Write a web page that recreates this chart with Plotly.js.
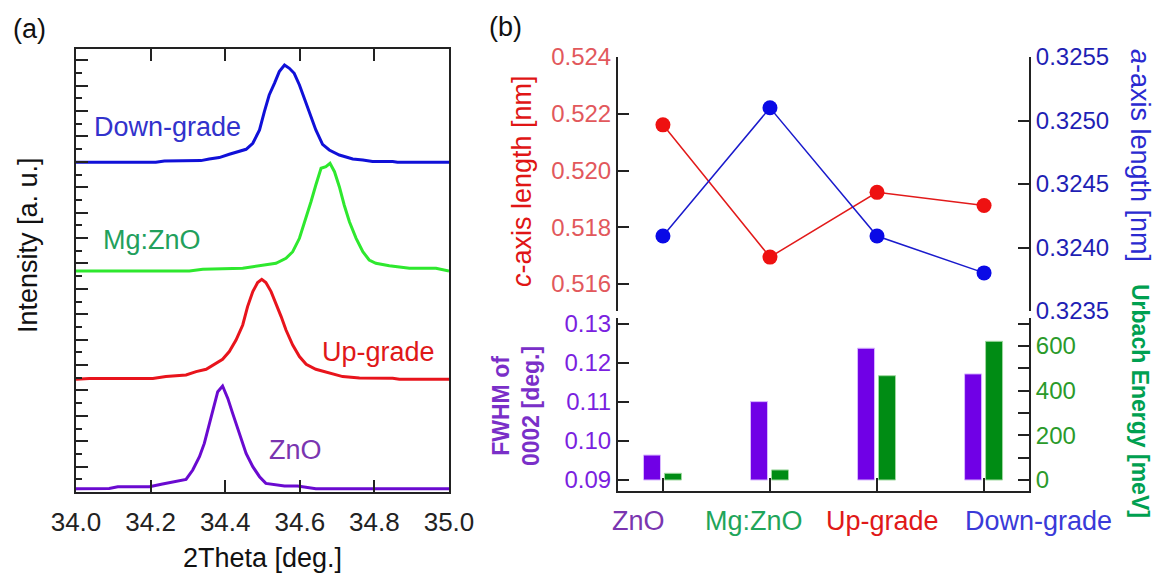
<!DOCTYPE html>
<html><head><meta charset="utf-8">
<script src="https://cdn.plot.ly/plotly-3.0.1.min.js"></script>
<style>html,body{margin:0;padding:0;background:#fff}#chart{width:1161px;height:577px}</style>
</head><body><div id="chart"></div>
<script>
// ---------- Panel (a): XRD 0002 peaks ----------
const downTheta = [34.000,34.214,34.237,34.335,34.357,34.384,34.411,34.438,34.456,34.474,34.492,34.505,34.518,34.532,34.545,34.559,34.572,34.585,34.599,34.612,34.626,34.643,34.661,34.679,34.706,34.742,34.769,34.795,34.849,34.862,35.000];
const downInt   = [0,0,1.3,1.7,3.3,4.7,8,10.7,13,19,32.3,50.7,67.3,79,90.7,97.3,94,89,77.3,64,49,32.3,18,12.3,7.3,3.3,2.3,0.7,0.7,0,0];
const mgTheta = [34.000,34.304,34.340,34.447,34.474,34.500,34.536,34.563,34.581,34.599,34.617,34.630,34.643,34.657,34.670,34.681,34.693,34.706,34.719,34.733,34.751,34.769,34.786,34.804,34.840,34.867,34.894,34.965,34.983,35.000];
const mgInt   = [0,0,1.7,2.7,4.3,6,7.7,12.7,19.3,32.7,52.7,69.3,86,102.7,104.3,107.7,99.3,84.3,66,49.3,32.7,19.3,11,7.7,5.3,4.3,2.7,2.7,1,0];
const upTheta = [34.000,34.036,34.206,34.241,34.295,34.322,34.349,34.375,34.393,34.411,34.429,34.447,34.460,34.474,34.487,34.498,34.509,34.523,34.536,34.550,34.563,34.581,34.599,34.617,34.643,34.679,34.715,34.760,34.849,34.867,35.000];
const upInt   = [0,0.7,0.7,2.7,4.3,7.7,10,16,20,27.7,39.3,54.3,72.7,87.7,96.7,100,96.7,87.7,76,62.7,49.3,34.3,22.7,15,10,6,2.7,1.3,1,0,0];
const znoTheta = [34.000,34.089,34.112,34.197,34.232,34.259,34.295,34.313,34.331,34.344,34.357,34.371,34.380,34.393,34.407,34.420,34.438,34.456,34.474,34.492,34.509,34.536,34.559,34.594,34.626,34.643,35.000];
const znoInt   = [0,0.3,2,2,4.7,7,9.3,18.7,32,45.3,63.7,83.7,97,102.7,90.3,75.3,55.3,35.3,22,12,5.3,3.7,2.7,2.7,0.7,0,0];
const curveNames   = ['ZnO','Up-grade','Mg:ZnO','Down-grade'];
const curveOffsets = [3.3, 112.7, 221, 329.7];
const xTicksA = [34.0, 34.2, 34.4, 34.6, 34.8, 35.0];

// ---------- Panel (b): lattice, FWHM, Urbach ----------
const categories = ['ZnO','Mg:ZnO','Up-grade','Down-grade'];
const cAxisLen = [0.52161, 0.51695, 0.51923, 0.51877];
const aAxisLen = [0.32409, 0.32510, 0.32409, 0.32380];
const fwhm0002 = [0.0964, 0.1101, 0.1238, 0.1172];
const urbachE  = [30, 45, 467, 621];
const cTicks = [0.516, 0.518, 0.520, 0.522, 0.524];
const aTicks = [0.3235, 0.3240, 0.3245, 0.3250, 0.3255];
const fwhmTicks = [0.09, 0.10, 0.11, 0.12, 0.13];

const W = 1161, H = 577;
const px = v => v / W, py = v => 1 - v / H;
const FONT = 'Liberation Sans, Arial, Helvetica, sans-serif';
const AX = '#222';

const curveCols = ['#6a0ad0', '#e8141c', '#2ee82e', '#1010d8'];
const thetas = [znoTheta, upTheta, mgTheta, downTheta];
const ints = [znoInt, upInt, mgInt, downInt];

const traces = [];
thetas.forEach((t, i) => {
  traces.push({
    type: 'scatter', mode: 'lines', x: t, y: ints[i].map(v => v + curveOffsets[i]),
    name: curveNames[i], xaxis: 'x', yaxis: 'y',
    line: {color: curveCols[i], width: 3, shape: 'linear'}, hoverinfo: 'skip'
  });
});
const catIdx = categories.map((_, i) => i);
traces.push({type:'scatter', mode:'lines+markers', x: catIdx, y: cAxisLen, xaxis:'x2', yaxis:'y2',
  line:{color:'#e21a1a', width:1.5}, marker:{color:'#ee1111', size:15}, name:'c-axis'});
traces.push({type:'scatter', mode:'lines+markers', x: catIdx, y: aAxisLen, xaxis:'x2', yaxis:'y3',
  line:{color:'#1a1acc', width:1.5}, marker:{color:'#0a0ae6', size:15}, name:'a-axis'});
traces.push({type:'bar', x: catIdx, y: fwhm0002.map(v => v - 0.09), base: 0.09, xaxis:'x2', yaxis:'y4',
  width: 0.159, offset: -0.182, marker:{color:'#7000e6', line:{color:'#d9b8ff', width:1}}, name:'FWHM'});
traces.push({type:'bar', x: catIdx, y: urbachE, base: 0, xaxis:'x2', yaxis:'y5',
  width: 0.159, offset: 0.014, marker:{color:'#008c14', line:{color:'#9fd89f', width:1}}, name:'Urbach'});

const yA0 = 0, yA1 = 443;
const tickA = {tick0: 0, dtick: 25.4, ticks: 'inside', ticklen: 12, tickwidth: 2, tickcolor: AX,
  minor: {dtick: 12.7, tick0: 0, ticks: 'inside', ticklen: 6, tickwidth: 2, tickcolor: AX}};
const layout = {
  width: W, height: H, margin: {l:0, r:0, t:0, b:0}, showlegend: false,
  paper_bgcolor: '#fff', plot_bgcolor: 'rgba(0,0,0,0)', barmode: 'overlay',
  font: {family: FONT, color: '#222'},
  xaxis: {domain: [px(76), px(449)], anchor: 'y', range: [34, 35], tickvals: xTicksA,
    ticktext: xTicksA.map(v => v.toFixed(1)), ticks: 'inside', ticklen: 12, tickwidth: 2, tickcolor: AX,
    showline: true, linewidth: 2, linecolor: AX, mirror: 'ticks', showgrid: false, zeroline: false,
    tickfont: {size: 26, color: '#222', family: FONT}, ticklabelstandoff: 6},
  yaxis: Object.assign({domain: [py(492), py(49)], anchor: 'x', range: [yA0, yA1], showticklabels: false,
    showline: true, linewidth: 2, linecolor: AX, mirror: true, showgrid: false, zeroline: false}, tickA),
  yaxis6: Object.assign({overlaying: 'y', anchor: 'x', side: 'right', range: [yA0, yA1], showticklabels: false,
    showline: false, showgrid: false, zeroline: false}, tickA),
  xaxis2: {domain: [px(618), px(1029)], anchor: 'y4', range: [-0.42, 3.42], tickvals: catIdx,
    ticks: 'inside', ticklen: 13, tickwidth: 2, tickcolor: AX, showticklabels: false,
    showline: true, linewidth: 2, linecolor: AX, showgrid: false, zeroline: false},
  xaxis3: {overlaying: 'x2', anchor: 'free', position: py(46), side: 'top', range: [-0.42, 3.42], tickvals: catIdx,
    ticks: 'inside', ticklen: 12, tickwidth: 2, tickcolor: AX, showticklabels: false,
    showline: true, linewidth: 2, linecolor: AX, showgrid: false, zeroline: false},
  yaxis2: {domain: [py(311), py(57)], anchor: 'x2', range: [0.51505, 0.524], tickvals: cTicks,
    ticktext: cTicks.map(v => v.toFixed(3)), ticks: 'inside', ticklen: 11, tickwidth: 2, tickcolor: AX,
    showline: true, linewidth: 2, linecolor: AX, showgrid: false, zeroline: false,
    tickfont: {size: 24, color: '#e2585c', family: FONT}},
  yaxis3: {overlaying: 'y2', anchor: 'x2', side: 'right', range: [0.3235, 0.3255], tickvals: aTicks,
    ticktext: aTicks.map(v => v.toFixed(4)), ticks: 'inside', ticklen: 11, tickwidth: 2, tickcolor: AX,
    showline: true, linewidth: 2, linecolor: AX, showgrid: false, zeroline: false,
    tickfont: {size: 24, color: '#1f1fb4', family: FONT}},
  yaxis4: {domain: [py(491), py(318)], anchor: 'x2', range: [0.08718, 0.13154], tickvals: fwhmTicks,
    ticktext: fwhmTicks.map(v => v.toFixed(2)), ticks: 'inside', ticklen: 11, tickwidth: 2, tickcolor: AX,
    showline: true, linewidth: 2, linecolor: AX, showgrid: false, zeroline: false,
    tickfont: {size: 24, color: '#7a1fe0', family: FONT}},
  yaxis5: {overlaying: 'y4', anchor: 'x2', side: 'right', range: [-49.3, 725.4], tick0: 0, dtick: 200,
    ticks: 'inside', ticklen: 11, tickwidth: 2, tickcolor: AX,
    minor: {dtick: 100, tick0: 0, ticks: 'inside', ticklen: 11, tickwidth: 2, tickcolor: AX},
    showline: true, linewidth: 2, linecolor: AX, showgrid: false, zeroline: false,
    tickfont: {size: 24, color: '#2a9a2a', family: FONT}},
  annotations: []
};

function ann(text, x, y, size, color, extra) {
  layout.annotations.push(Object.assign({text, x: px(x), y: py(y), xref: 'paper', yref: 'paper',
    xanchor: 'center', yanchor: 'middle', showarrow: false,
    font: {family: FONT, size, color}}, extra || {}));
}
ann('(a)', 29.5, 28.5, 27, '#111');
ann('(b)', 505, 27, 27, '#111');
ann('Intensity [a. u.]', 28, 245, 27, '#111', {textangle: -90});
ann('2Theta [deg.]', 262, 558, 27, '#111');
ann('Down-grade', 167, 127, 27, '#3232cc');
ann('Mg:ZnO', 152, 240, 27, '#22a05c');
ann('Up-grade', 379, 352, 27, '#e01818');
ann('ZnO', 295, 450, 27, '#7a35b0');

ann('<i>c</i>-axis length [nm]', 522, 181, 27, '#e01515', {textangle: -90});
ann('<i>a</i>-axis length [nm]', 1140, 155, 27, '#2a2ad0', {textangle: 90});
ann('<b>Urbach Energy [meV]</b>', 1140, 401, 23, '#00a050', {textangle: 90});
ann('<b>FWHM of<br>0002 [deg.]</b>', 516, 406, 23, '#7a2fc8', {textangle: -90});
const catCols = ['#7a35b0', '#1fa55a', '#e01818', '#3a3ad8'];
const catX = [638, 754, 882, 1038];
categories.forEach((c, i) => ann(c, catX[i], 521, 27, catCols[i]));

Plotly.newPlot('chart', traces, layout, {staticPlot: true, displayModeBar: false});
</script></body></html>
